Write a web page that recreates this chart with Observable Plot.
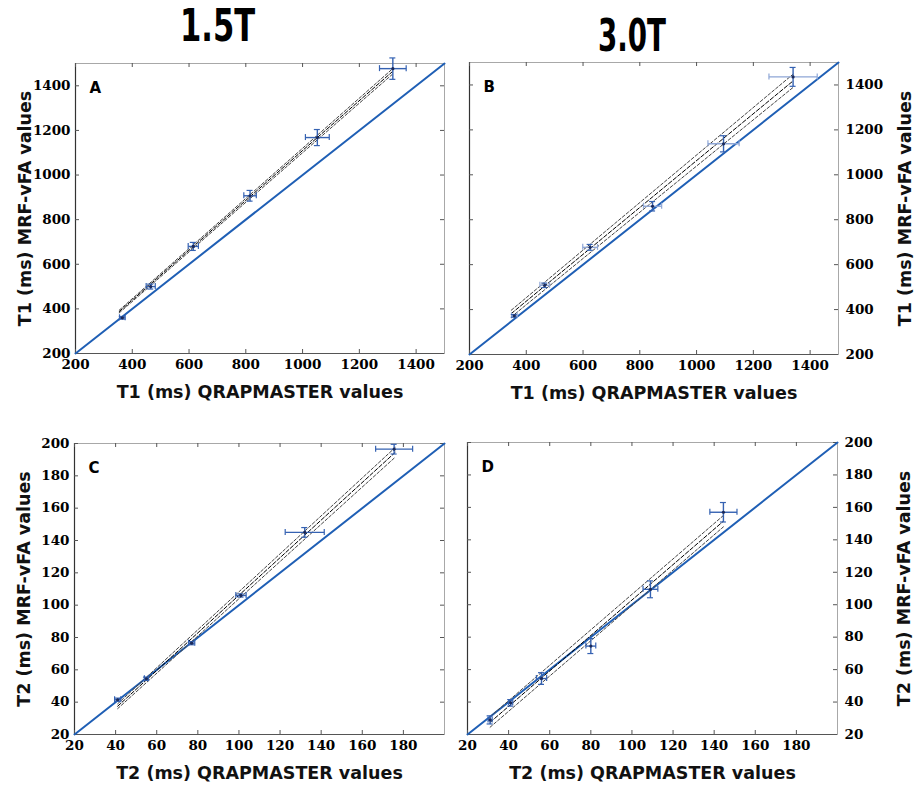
<!DOCTYPE html>
<html><head><meta charset="utf-8">
<script src="https://cdn.jsdelivr.net/npm/d3@7"></script>
<script src="https://cdn.jsdelivr.net/npm/@observablehq/plot@0.6"></script>
<style>
body{margin:0;background:#fff;}
#wrap{position:relative;width:914px;height:787px;overflow:hidden;}
.title{position:absolute;font-family:"Liberation Sans Narrow","DejaVu Sans Condensed","DejaVu Sans",sans-serif;font-weight:bold;font-size:44px;line-height:52px;color:#000;white-space:nowrap;transform-origin:0 0;}
.panel{position:absolute;}
</style></head><body>
<div id="wrap"></div>
<script>
// ---- data ----
const fieldTitles = ["1.5T", "3.0T"];
const panelLetters = ["A", "B", "C", "D"];
const t1Domain = [200, 1500];
const t2Domain = [20, 200];
const t1Ticks = [200, 400, 600, 800, 1000, 1200, 1400];
const t2TicksX = [20, 40, 60, 80, 100, 120, 140, 160, 180];
const t2TicksY = [20, 40, 60, 80, 100, 120, 140, 160, 180, 200];
const xLabelT1 = "T1 (ms) QRAPMASTER values";
const yLabelT1 = "T1 (ms) MRF-vFA values";
const xLabelT2 = "T2 (ms) QRAPMASTER values";
const yLabelT2 = "T2 (ms) MRF-vFA values";

// Panel A: T1 at 1.5T
const xA  = [365, 465, 615, 815, 1052, 1318];
const yA  = [360, 500, 680, 907, 1168, 1477];
const exA = [10, 16, 18, 22, 42, 47];
const eyA = [6, 11, 18, 24, 36, 48];
const fitXA = [354, 1315];
const fitMidA = [388, 1462];
const fitLoA = [382, 1450];
const fitHiA = [394, 1474];

// Panel B: T1 at 3.0T
const xB  = [358, 465, 625, 845, 1095, 1340];
const yB  = [372, 508, 677, 860, 1138, 1436];
const exB = [10, 17, 26, 32, 55, 85];
const eyB = [6, 10, 13, 21, 36, 42];
const fitXB = [347, 1340];
const fitMidB = [382, 1418];
const fitLoB = [367, 1389];
const fitHiB = [397, 1448];

// Panel C: T2 at 1.5T
const xC  = [41, 55, 77, 101, 132, 175.5];
const yC  = [41.5, 54.5, 76.5, 106, 145, 196.5];
const exC = [1.5, 1, 1.5, 2.5, 9.5, 9];
const eyC = [1, 1, 1, 1, 3, 3];
const fitXC = [41, 176];
const fitMidC = [37.5, 194.5];
const fitLoC = [36, 191.5];
const fitHiC = [39, 197.5];

// Panel D: T2 at 3.0T
const xD  = [31, 41, 56, 80, 109, 144.5];
const yD  = [29, 39.5, 54.5, 74.5, 109.5, 157];
const exD = [1, 1, 2.5, 2.4, 3.6, 6.6];
const eyD = [2.5, 2, 3.6, 4.6, 5.2, 6];
const fitXD = [31, 144.5];
const fitMidD = [27.5, 151.5];
const fitLoD = [24.5, 148];
const fitHiD = [31, 155];

// ---- drawing ----
const wrap = document.getElementById("wrap");
const titlePos = [{cx: 217, top: 0, w: 75}, {cx: 632, top: 10, w: 68}];
fieldTitles.forEach((t, i) => {
  const d = document.createElement("div");
  d.className = "title";
  d.textContent = t;
  d.style.top = titlePos[i].top + "px";
  wrap.appendChild(d);
  const w = d.getBoundingClientRect().width;
  const s = Math.min(1, titlePos[i].w / w);
  d.style.left = (titlePos[i].cx - w * s / 2) + "px";
  d.style.transform = `scaleX(${s})`;
});

const BLUE = "#1f5fb5";
const BAR = "#3562b2";

function panel(cfg) {
  const {letter, xs, ys, exs, eys, fitX, fitMid, fitLo, fitHi, domain, xTicks, yTicks,
         xLabel, yLabel, side, left, top, width, height, m, xBarColor} = cfg;
  const innerW = width - m.left - m.right;
  const innerH = height - m.top - m.bottom;
  const rows = xs.map((x, i) => ({x, y: ys[i], ex: exs[i], ey: eys[i]}));
  const fitLine = arr => fitX.map((x, i) => ({x, y: arr[i]}));
  const serif = "DejaVu Serif";
  const sans = "DejaVu Sans";
  const fmt = d => String(d);
  const marks = [
    Plot.frame({stroke: "#a8a8a8"}),
    Plot.ruleX([domain[0]], {stroke: "#333", strokeWidth: 1.2}),
    Plot.ruleY([domain[0]], {stroke: "#555", strokeWidth: 1}),
    // inside ticks on all four sides
    Plot.ruleX(xTicks, {insetTop: innerH - 4, stroke: "#555"}),
    Plot.ruleX(xTicks, {insetBottom: innerH - 4, stroke: "#555"}),
    Plot.ruleY(yTicks, {insetRight: innerW - 4, stroke: "#555"}),
    Plot.ruleY(yTicks, {insetLeft: innerW - 4, stroke: "#555"}),
    // identity line
    Plot.line(domain, {x: d => d, y: d => d, stroke: BLUE, strokeWidth: 2}),
    // regression fit and confidence band lines
    Plot.line(fitLine(fitLo), {x: "x", y: "y", stroke: "#444", strokeWidth: 1, strokeDasharray: "3,2"}),
    Plot.line(fitLine(fitHi), {x: "x", y: "y", stroke: "#444", strokeWidth: 1, strokeDasharray: "3,2"}),
    Plot.line(fitLine(fitMid), {x: "x", y: "y", stroke: "#000", strokeWidth: 1, strokeDasharray: "4,2"}),
    // error bars
    Plot.link(rows, {x1: d => d.x - d.ex, x2: d => d.x + d.ex, y1: "y", y2: "y", stroke: xBarColor, strokeWidth: 1.4}),
    Plot.link(rows, {x1: "x", x2: "x", y1: d => d.y - d.ey, y2: d => d.y + d.ey, stroke: BAR, strokeWidth: 1.4}),
    Plot.ruleX(rows, {x: d => d.x - d.ex, y1: "y", y2: "y", insetTop: -3, insetBottom: -3, stroke: xBarColor, strokeWidth: 1.2}),
    Plot.ruleX(rows, {x: d => d.x + d.ex, y1: "y", y2: "y", insetTop: -3, insetBottom: -3, stroke: xBarColor, strokeWidth: 1.2}),
    Plot.ruleY(rows, {y: d => d.y - d.ey, x1: "x", x2: "x", insetLeft: -3, insetRight: -3, stroke: BAR, strokeWidth: 1.2}),
    Plot.ruleY(rows, {y: d => d.y + d.ey, x1: "x", x2: "x", insetLeft: -3, insetRight: -3, stroke: BAR, strokeWidth: 1.2}),
    Plot.dot(rows, {x: "x", y: "y", r: 1.6, fill: "#1b2a5a"}),
    // axes
    Plot.axisX({ticks: xTicks, tickSize: 0, tickPadding: 6, tickFormat: fmt, label: null,
      fontFamily: serif, fontWeight: "bold", fontSize: 13.5, fill: "#000"}),
    Plot.axisY({ticks: yTicks, anchor: side, tickSize: 0, tickPadding: side === "left" ? 5 : 7, tickFormat: fmt, label: null,
      fontFamily: serif, fontWeight: "bold", fontSize: 13.5, fill: "#000"}),
    // axis titles
    Plot.text([xLabel], {text: d => d, frameAnchor: "bottom", dy: 39, lineAnchor: "middle", textAnchor: "middle",
      fontFamily: sans, fontWeight: "bold", fontSize: 17.5, fill: "#111"}),
    Plot.text([yLabel], {text: d => d, frameAnchor: side, rotate: -90, dx: side === "left" ? -50 : 67,
      lineAnchor: "middle", textAnchor: "middle",
      fontFamily: sans, fontWeight: "bold", fontSize: 17.5, fill: "#111"}),
    // panel letter
    Plot.text([letter], {text: d => d, frameAnchor: "top-left", dx: 14, dy: 19, textAnchor: "start", lineAnchor: "top",
      fontFamily: sans, fontWeight: "bold", fontSize: 15, fill: "#000"})
  ];
  const svg = Plot.plot({
    width, height,
    marginLeft: m.left, marginRight: m.right, marginTop: m.top, marginBottom: m.bottom,
    x: {domain, axis: null},
    y: {domain, axis: null},
    style: {background: "transparent", overflow: "visible"},
    marks
  });
  svg.classList.add("panel");
  svg.style.left = left + "px";
  svg.style.top = top + "px";
  wrap.appendChild(svg);
}

panel({letter: panelLetters[0], xs: xA, ys: yA, exs: exA, eys: eyA, fitX: fitXA, fitMid: fitMidA, fitLo: fitLoA, fitHi: fitHiA,
  domain: t1Domain, xTicks: t1Ticks, yTicks: t1Ticks, xLabel: xLabelT1, yLabel: yLabelT1, side: "left",
  left: 0, top: 0, width: 457, height: 420, m: {left: 75, right: 13, top: 63, bottom: 67}, xBarColor: BAR});
panel({letter: panelLetters[1], xs: xB, ys: yB, exs: exB, eys: eyB, fitX: fitXB, fitMid: fitMidB, fitLo: fitLoB, fitHi: fitHiB,
  domain: t1Domain, xTicks: t1Ticks, yTicks: t1Ticks, xLabel: xLabelT1, yLabel: yLabelT1, side: "right",
  left: 457, top: 0, width: 457, height: 420, m: {left: 12, right: 76, top: 62, bottom: 66}, xBarColor: "#8ea6d6"});
panel({letter: panelLetters[2], xs: xC, ys: yC, exs: exC, eys: eyC, fitX: fitXC, fitMid: fitMidC, fitLo: fitLoC, fitHi: fitHiC,
  domain: t2Domain, xTicks: t2TicksX, yTicks: t2TicksY, xLabel: xLabelT2, yLabel: yLabelT2, side: "left",
  left: 0, top: 380, width: 457, height: 407, m: {left: 74, right: 13, top: 63, bottom: 53}, xBarColor: BAR});
panel({letter: panelLetters[3], xs: xD, ys: yD, exs: exD, eys: eyD, fitX: fitXD, fitMid: fitMidD, fitLo: fitLoD, fitHi: fitHiD,
  domain: t2Domain, xTicks: t2TicksX, yTicks: t2TicksY, xLabel: xLabelT2, yLabel: yLabelT2, side: "right",
  left: 457, top: 380, width: 457, height: 407, m: {left: 10, right: 77, top: 62, bottom: 53}, xBarColor: BAR});
</script>
</body></html>
